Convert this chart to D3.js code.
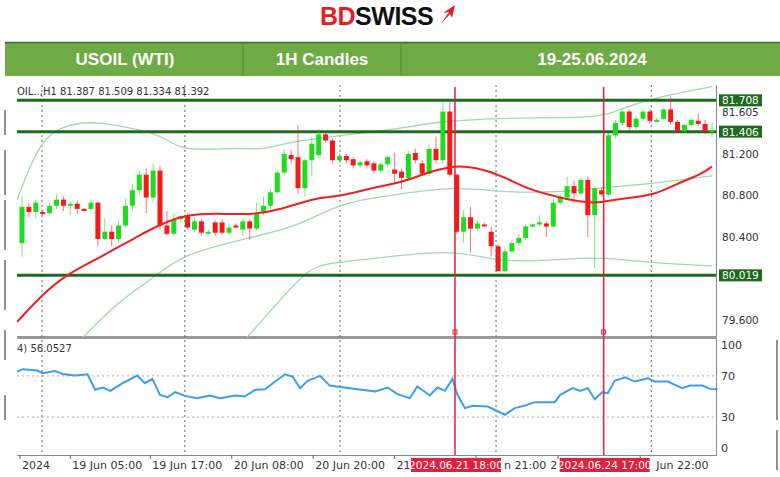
<!DOCTYPE html>
<html><head><meta charset="utf-8">
<script src="https://cdn.jsdelivr.net/npm/d3@7"></script>
<style>body{margin:0;background:#fff}svg{display:block}</style>
</head><body><svg id="c" width="780" height="477"></svg>
<script>
// ---- data ----
const headers = ["USOIL (WTI)", "1H Candles", "19-25.06.2024"];
const ohlc = [
[80.33,80.78,80.20,80.68],[80.68,80.72,80.58,80.63],[80.63,80.75,80.57,80.72],[80.63,80.65,80.60,80.61],[80.62,80.72,80.60,80.69],
[80.69,80.80,80.66,80.75],[80.75,80.78,80.64,80.69],[80.70,80.73,80.60,80.71],[80.71,80.74,80.61,80.66],[80.66,80.67,80.64,80.65],
[80.66,80.75,80.64,80.72],[80.72,80.73,80.30,80.37],[80.37,80.57,80.36,80.44],[80.44,80.50,80.30,80.37],[80.37,80.55,80.33,80.50],
[80.50,80.76,80.48,80.69],[80.69,80.90,80.64,80.84],[80.84,81.03,80.80,80.99],[80.99,81.05,80.62,80.77],[80.77,81.10,80.72,81.03],
[81.03,81.08,80.46,80.50],[80.50,80.64,80.40,80.42],[80.42,80.62,80.40,80.56],[80.56,80.60,80.53,80.59],[80.59,80.62,80.46,80.48],
[80.46,80.58,80.44,80.54],[80.54,80.56,80.40,80.43],[80.43,80.46,80.41,80.44],[80.53,80.55,80.40,80.43],[80.53,80.56,80.41,80.43],
[80.43,80.52,80.41,80.48],[80.50,80.52,80.47,80.48],[80.46,80.57,80.40,80.54],[80.54,80.56,80.36,80.47],[80.47,80.72,80.45,80.62],
[80.62,80.78,80.60,80.69],[80.69,80.86,80.66,80.82],[80.82,81.03,80.80,81.01],[81.01,81.24,80.99,81.19],[81.18,81.23,81.10,81.14],
[81.16,81.47,80.80,80.86],[80.86,81.15,80.78,81.13],[81.13,81.35,80.98,81.29],[81.18,81.43,81.15,81.38],[81.38,81.41,81.30,81.32],
[81.32,81.34,81.10,81.13],[81.13,81.20,81.10,81.17],[81.17,81.19,81.10,81.13],[81.14,81.16,81.05,81.08],[81.08,81.13,81.06,81.11],
[81.12,81.14,81.05,81.08],[81.10,81.12,81.00,81.03],[81.03,81.11,81.01,81.09],[81.09,81.18,81.06,81.16],
[81.04,81.20,80.90,81.00],[81.02,81.05,80.85,80.96],[80.96,81.22,80.94,81.19],[81.20,81.24,81.10,81.13],[81.10,81.13,80.98,81.00],
[81.00,81.28,80.98,81.24],[81.24,81.36,81.10,81.13],[81.13,81.69,81.10,81.60],[81.60,81.69,80.97,80.99],[80.99,81.00,80.42,80.44],
[80.44,80.65,80.33,80.58],[80.58,80.68,80.24,80.47],[80.47,80.55,80.45,80.52],[80.51,80.53,80.49,80.50],[80.44,80.49,80.20,80.30],
[80.30,80.32,80.06,80.06],[80.06,80.28,80.05,80.25],[80.25,80.36,80.23,80.33],[80.33,80.42,80.30,80.38],[80.38,80.51,80.36,80.49],
[80.49,80.52,80.48,80.51],[80.51,80.60,80.49,80.53],[80.52,80.54,80.39,80.49],[80.49,80.76,80.47,80.72],[80.72,80.80,80.70,80.77],
[80.77,80.97,80.74,80.88],[80.88,80.93,80.72,80.81],[80.81,80.96,80.79,80.94],[80.94,80.97,80.39,80.60],[80.60,80.88,80.09,80.86],
[80.84,80.86,80.78,80.80],[80.80,81.39,80.78,81.37],[81.37,81.52,81.34,81.49],[81.49,81.62,81.46,81.60],[81.60,81.62,81.42,81.45],
[81.45,81.56,81.43,81.53],[81.53,81.62,81.51,81.60],[81.60,81.62,81.48,81.51],[81.51,81.54,81.50,81.52],[81.53,81.64,81.51,81.62],
[81.62,81.74,81.48,81.50],[81.50,81.52,81.39,81.41],[81.41,81.48,81.38,81.47],[81.47,81.54,81.45,81.52],[81.51,81.58,81.46,81.48],
[81.48,81.52,81.38,81.41],[81.41,81.50,81.35,81.42]
];
const maPts = [[-0.7,79.57],[2.6,79.81],[6.2,80.02],[11.3,80.19],[17.1,80.41],[20.7,80.53],[23.6,80.6],[28,80.62],[33,80.6],[37.4,80.65],[42.5,80.77],[46.1,80.78],[50.4,80.86],[54.8,80.91],[59.1,81.02],[62.8,81.08],[65.7,81.06],[69.3,80.99],[73.6,80.84],[78,80.77],[81.6,80.72],[83.8,80.72],[86.7,80.76],[91.7,80.79],[95.4,80.92],[98.3,80.99],[100,81.07]];
const bbUpper = [[-0.7,80.75],[2.6,81.33],[6.2,81.47],[9.9,81.5],[12.8,81.48],[15.7,81.44],[18.6,81.4],[20.7,81.34],[22.9,81.25],[25.8,81.23],[31.6,81.25],[34.5,81.23],[37.4,81.28],[40.3,81.32],[43.2,81.34],[46.1,81.37],[50.4,81.4],[54.8,81.44],[57.7,81.47],[60.6,81.5],[62.8,81.51],[67.8,81.53],[73.6,81.54],[83.8,81.54],[86.7,81.62],[89.6,81.69],[92.5,81.74],[96.8,81.8],[100,81.84]];
const bbMid = [[8.8,79.42],[14.2,79.78],[18.6,79.97],[23.3,80.23],[33,80.38],[40.3,80.5],[46.1,80.72],[53.3,80.79],[62.8,80.88],[69.3,80.82],[78,80.82],[84.8,80.87],[91,80.9],[100,80.98]];
const bbLower = [[32.6,79.42],[37.4,79.78],[41.7,80.1],[45.1,80.14],[53.3,80.2],[62.8,80.27],[69.3,80.14],[78,80.17],[83.3,80.2],[91,80.14],[100,80.11]];
const rsi = [[-0.7,74.2],[0.1,76.5],[2.2,75.2],[3,72.6],[4.8,74.8],[5.9,71.9],[7.7,70.3],[9.5,71.6],[10.6,56.5],[11.7,58.7],[12.8,55.5],[14.6,62.9],[16.7,70.3],[17.8,62.9],[18.9,67.1],[20,51.6],[21.1,49.4],[22.2,54.2],[23.6,50.6],[25.4,48.4],[27.2,51],[28.7,48.4],[30.9,51],[32.3,50],[33.8,56.5],[35.2,57.1],[38.1,71.6],[39.2,69.4],[40.3,58.1],[41.4,65.2],[43.2,70],[44.6,60.6],[47.5,58.1],[51.2,54.8],[53,58.7],[54.4,52.3],[56.2,48.4],[57.3,59.7],[59.1,51],[60.2,58.7],[61.3,55.5],[62.4,67.1],[63.1,51.6],[64.2,38.7],[65.3,41],[67.5,40.3],[70,32.3],[71.4,38.7],[72.9,41.3],[74.3,44.5],[77.2,44.5],[78,51.6],[79.8,58.1],[80.9,55.5],[82,58.1],[83,47.4],[84.1,54.2],[84.9,53.2],[85.9,65.2],[87.4,68.7],[88.8,64.5],[90.7,67.7],[91.7,64.5],[93.6,64.5],[95.7,58.1],[96.8,60.6],[98.6,60.6],[99.7,57.4],[100.8,57.1]];
const levels = [81.708, 81.406, 80.019];
const priceTicks = [81.605, 81.2, 80.8, 80.4, 79.6];
const rsiTicks = [100, 70, 30, 0];
const gridIdx = [2.9, 23.6, 46.1, 68.7, 91.2];
// visible parts of the time labels (the rest is hidden under the marker boxes)
const timeTicks = [[-0.3,"2024"],[7,"19 Jun 05:00"],[18.6,"19 Jun 17:00"],[30.4,"20 Jun 08:00"],[42.2,"20 Jun 20:00"],[54,"21"],[65.8,"n 21:00"],[77.7,"2"],[89.6,"Jun 22:00"]];
const timeOffset = [0,0,0,0,0,0,26,-10,14];
const markers = [[62.75,"2024.06.21 18:00"],[84.3,"2024.06.24 17:00"]];

// ---- drawing ----
const svg = d3.select("#c");
const F = "Tahoma, 'DejaVu Sans', sans-serif";
const x = d3.scaleLinear().domain([0,100]).range([22,712]);
const y = d3.scaleLinear().domain([79.424,81.856]).range([337,85]);
const yr = d3.scaleLinear().domain([0,100]).range([448,345]);

// logo
const logo = svg.append("text").attr("x",320).attr("y",25).attr("font-family","'Liberation Sans',Arial,sans-serif").attr("font-weight","bold").attr("font-size",25).attr("letter-spacing",-0.5);
logo.append("tspan").attr("fill","#e41e26").text("BD");
logo.append("tspan").attr("fill","#111").text("SWISS");
svg.append("path").attr("d","M440,25 L449,12 L443,13 L455,5 L452,18 L450,14 Z").attr("fill","#e41e26");

// header bar
svg.append("rect").attr("x",5).attr("y",42).attr("width",775).attr("height",34).attr("fill","#6eab45");
svg.append("line").attr("x1",5).attr("x2",780).attr("y1",42.5).attr("y2",42.5).attr("stroke","#3b6b24").attr("stroke-width",1.5);
[243,401].forEach(v=>svg.append("line").attr("x1",v).attr("x2",v).attr("y1",42).attr("y2",76).attr("stroke","#4f8a30"));
[125,322,592].forEach((cx,i)=>svg.append("text").attr("x",cx).attr("y",65).attr("text-anchor","middle").attr("fill","#fff").attr("font-family","'Liberation Sans',Arial,sans-serif").attr("font-weight","bold").attr("font-size",17).text(headers[i]));

// frame bits
svg.append("line").attr("x1",716.5).attr("x2",716.5).attr("y1",85).attr("y2",455).attr("stroke","#888");
svg.append("rect").attr("x",17).attr("y",336).attr("width",700).attr("height",3).attr("fill","#999");
svg.append("line").attr("x1",17).attr("x2",717).attr("y1",455.5).attr("y2",455.5).attr("stroke","#888");
[[110,135],[150,195],[200,250],[260,310],[330,360],[395,420]].forEach(s=>svg.append("line").attr("x1",5).attr("x2",5).attr("y1",s[0]).attr("y2",s[1]).attr("stroke","#222"));
[[340,420],[430,470]].forEach(s=>svg.append("line").attr("x1",777).attr("x2",777).attr("y1",s[0]).attr("y2",s[1]).attr("stroke","#222"));

// grid
gridIdx.forEach(g=>{
  svg.append("line").attr("x1",x(g)).attr("x2",x(g)).attr("y1",85).attr("y2",455).attr("stroke","#666").attr("stroke-dasharray","2,3");
});
[70,30].forEach(v=>svg.append("line").attr("x1",17).attr("x2",716).attr("y1",yr(v)).attr("y2",yr(v)).attr("stroke","#aaa").attr("stroke-dasharray","2,3"));

// bands
const ln = d3.line().x(d=>x(d[0])).y(d=>y(d[1])).curve(d3.curveBasis);
[bbUpper,bbMid,bbLower].forEach(b=>svg.append("path").attr("d",ln(b)).attr("fill","none").attr("stroke","#9fd9b0").attr("stroke-width",1.3));

// levels
levels.forEach(l=>svg.append("line").attr("x1",17).attr("x2",716).attr("y1",y(l)).attr("y2",y(l)).attr("stroke","#1e6b1e").attr("stroke-width",3));

// candles
const cg = svg.append("g");
ohlc.forEach((d,i)=>{
  const up = d[3]>=d[0], col = up?"#1fdc1f":"#f41a1a";
  cg.append("line").attr("x1",x(i)).attr("x2",x(i)).attr("y1",y(d[1])).attr("y2",y(d[2])).attr("stroke",col).attr("opacity",0.6);
  const t=y(Math.max(d[0],d[3])), b=y(Math.min(d[0],d[3]));
  cg.append("rect").attr("x",x(i)-2.5).attr("width",5).attr("y",t).attr("height",Math.max(2,b-t)).attr("fill",col);
});

// MA
svg.append("path").attr("d",ln(maPts)).attr("fill","none").attr("stroke","#ee2020").attr("stroke-width",2);

// RSI
svg.append("path").attr("d",d3.line().x(d=>x(d[0])).y(d=>yr(d[1]))(rsi)).attr("fill","none").attr("stroke","#3a9ff0").attr("stroke-width",2);

// markers
markers.forEach(m=>{
  svg.append("line").attr("x1",x(m[0])).attr("x2",x(m[0])).attr("y1",87).attr("y2",455).attr("stroke","#e0203c").attr("stroke-width",1.5);
  svg.append("rect").attr("x",x(m[0])-2).attr("y",330).attr("width",4).attr("height",4).attr("fill","none").attr("stroke","#e0203c");
});

// price axis
priceTicks.forEach(p=>svg.append("text").attr("x",722).attr("y",y(p)+5).attr("font-family",F).attr("font-size",10.5).attr("fill","#333").text(p.toFixed(3)));
levels.forEach(l=>{
  svg.append("rect").attr("x",719).attr("y",y(l)-6).attr("width",43).attr("height",12).attr("fill","#1e6b1e");
  svg.append("text").attr("x",722).attr("y",y(l)+4).attr("font-family",F).attr("font-size",10.5).attr("fill","#fff").text(l.toFixed(3));
});
rsiTicks.forEach(v=>svg.append("text").attr("x",721).attr("y",yr(v)+4).attr("font-family",F).attr("font-size",11).attr("fill","#333").text(v));

// time axis
timeTicks.forEach((t,i)=>{
  svg.append("line").attr("x1",x(t[0])).attr("x2",x(t[0])).attr("y1",455).attr("y2",459).attr("stroke","#666");
  svg.append("text").attr("x",x(t[0])+2+timeOffset[i]).attr("y",469).attr("font-family",F).attr("font-size",11).attr("fill","#333").text(t[1]);
});
markers.forEach(m=>{
  svg.append("rect").attr("x",x(m[0])-44).attr("y",458).attr("width",90).attr("height",14).attr("fill","#e0203c");
  svg.append("text").attr("x",x(m[0])+1).attr("y",469).attr("text-anchor","middle").attr("font-family",F).attr("font-size",10.5).attr("fill","#fff").text(m[1]);
});

// labels
svg.append("text").attr("x",17).attr("y",95).attr("font-family",F).attr("font-size",10).attr("fill","#333").text("OIL..,H1  81.387 81.509 81.334 81.392");
svg.append("text").attr("x",17).attr("y",352).attr("font-family",F).attr("font-size",10).attr("fill","#333").text("4) 56.0527");
</script></body></html>
